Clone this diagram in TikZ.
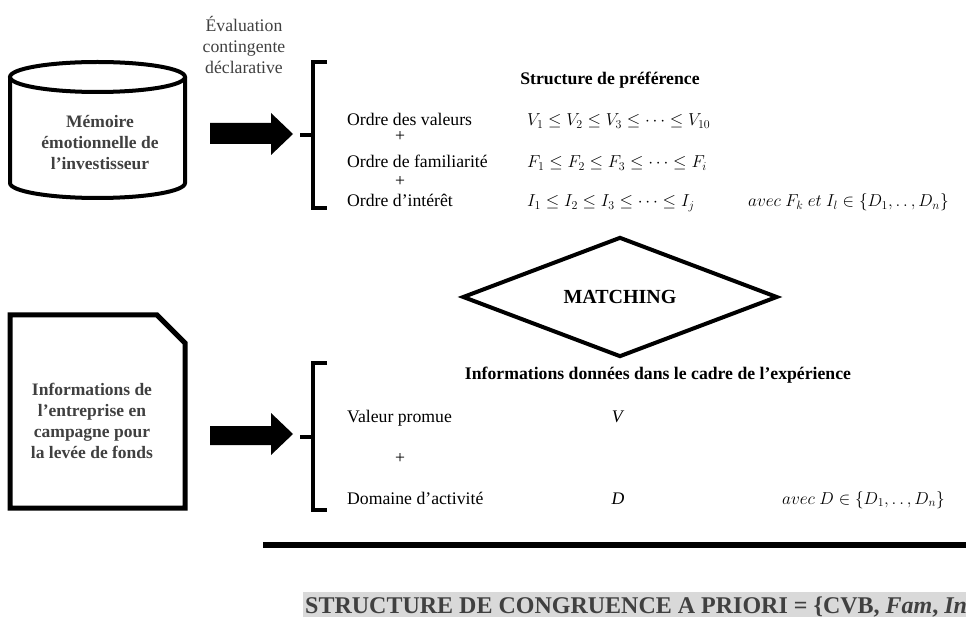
\documentclass[tikz,border=0pt]{standalone}
\usepackage{fontspec}
\setmainfont{Liberation Serif}
\usetikzlibrary{shapes.geometric}
\definecolor{txtgray}{RGB}{64,64,64}
\definecolor{bandgray}{RGB}{217,217,217}
\begin{document}
\begin{tikzpicture}[x=1pt,y=-1pt,
  shapeline/.style={draw=black, line width=4pt},
  docline/.style={draw=black, line width=5pt, line join=miter},
  brk/.style={draw=black, line width=4pt, line join=miter},
  blockarrow/.style={fill=black},
  bodytxt/.style={font=\fontsize{17.7}{21.3}\selectfont, inner sep=0pt},
  boldtxt/.style={font=\fontsize{17.7}{21.3}\selectfont\bfseries, inner sep=0pt},
  boxtxt/.style={font=\fontsize{17.5}{21}\selectfont\bfseries, text=txtgray, align=center, inner sep=0pt}
]
\useasboundingbox (0,0) rectangle (966,617);
\clip (0,0) rectangle (966,617);

% ---------- top: memory cylinder ----------
\draw[shapeline] (97.5,77) ellipse [x radius=87.5, y radius=15];
\draw[shapeline] (10,77) -- (10,183) arc[start angle=180, end angle=0, x radius=87.5, y radius=15] -- (185,77);
\node[boxtxt] (mem) at (100,143) {Mémoire\\émotionnelle de\\l’investisseur};

% label over the arrow
\node[bodytxt, text=txtgray, align=center] (eval) at (244,45) {Évaluation\\contingente\\déclarative};

% block arrow 1
\coordinate (tip1) at (293,134);
\fill[blockarrow, shift={(tip1)}] (-83,-11) -- (-22,-11) -- (-22,-21) -- (0,0) -- (-22,21) -- (-22,10) -- (-83,10) -- cycle;

% bracket 1
\coordinate (br1) at (313,135);
\draw[brk] (327,62) -- (313,62) -- (313,208) -- (327,208);
\draw[brk] (300,135) -- (br1);

% preference structure
\node[boldtxt, anchor=base] (sp) at (610,85) {Structure de préférence};
\node[bodytxt, anchor=base west] (ov) at (347,126) {Ordre des valeurs};
\node[bodytxt] (p1) at (400,137) {+};
\node[bodytxt, anchor=base west] (of) at (347,168) {Ordre de familiarité};
\node[bodytxt] (p2) at (400,182) {+};
\node[bodytxt, anchor=base west] (oi) at (347,207) {Ordre d’intérêt};
\node[bodytxt, anchor=base west] (mv) at (527,126) {$V_1 \le V_2 \le V_3 \le \cdots \le V_{10}$};
\node[bodytxt, anchor=base west] (mf) at (527,168) {$F_1 \le F_2 \le F_3 \le \cdots \le F_i$};
\node[bodytxt, anchor=base west] (mi) at (527,207) {$I_1 \le I_2 \le I_3 \le \cdots \le I_j$};
\node[bodytxt, anchor=base west] (av1) at (748,207) {$avec\ F_k\ et\ I_l \in \{D_1,.\,.\,,D_n\}$};

% matching diamond
\node[diamond, draw=black, line width=4pt, minimum width=315pt, minimum height=120pt, aspect=2.6, inner sep=0pt,
      font=\fontsize{20}{24}\selectfont\bfseries] (match) at (620,297) {MATCHING};

% ---------- bottom: company document ----------
\draw[docline] (10,315) -- (157,315) -- (185,343) -- (185,508) -- (10,508) -- cycle;
\node[boxtxt] (info) at (92,421) {Informations de\\l’entreprise en\\campagne pour\\la levée de fonds};

% block arrow 2
\coordinate (tip2) at (293,434);
\fill[blockarrow, shift={(tip2)}] (-83,-8) -- (-22,-8) -- (-22,-21) -- (0,0) -- (-22,21) -- (-22,11) -- (-83,11) -- cycle;

% bracket 2
\coordinate (br2) at (313,437);
\draw[brk] (327,363) -- (313,363) -- (313,510) -- (327,510);
\draw[brk] (300,437) -- (br2);

% experiment information
\node[boldtxt, anchor=base] (ide) at (658,379) {Informations données dans le cadre de l’expérience};
\node[bodytxt, anchor=base west] (vp) at (347,422) {Valeur promue};
\node[bodytxt] (p3) at (400,458) {+};
\node[bodytxt, anchor=base west] (da) at (347,504) {Domaine d’activité};
\node[bodytxt, anchor=base] (vv) at (618,422) {\textit{V}};
\node[bodytxt, anchor=base] (dd) at (618,504) {\textit{D}};
\node[bodytxt, anchor=base west] (av2) at (782,504) {$avec\ D \in \{D_1,.\,.\,,D_n\}$};

% rule
\coordinate (r1) at (263,545);
\coordinate (r2) at (966,545);
\draw[line width=6pt] (r1) -- (r2);

% congruence band
\fill[bandgray] (303,592) rectangle (966,617);
\node[font=\fontsize{24}{28}\selectfont\bfseries, text=txtgray, anchor=base west, inner sep=0pt] (cong) at (305,613)
  {STRUCTURE DE CONGRUENCE A PRIORI = \{CVB, \textit{Fam}, \textit{In}};
\end{tikzpicture}
\end{document}
